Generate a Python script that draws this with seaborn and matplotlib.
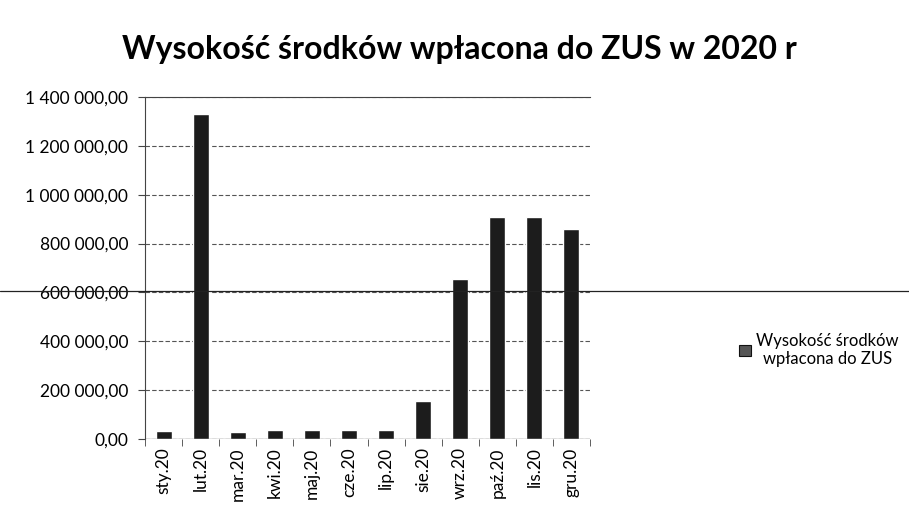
import matplotlib
matplotlib.use("Agg")
import matplotlib.pyplot as plt
import matplotlib.ticker as mticker
from matplotlib.lines import Line2D
import seaborn as sns
import pandas as pd
import numpy as np

months = ["sty.20", "lut.20", "mar.20", "kwi.20", "maj.20", "cze.20",
          "lip.20", "sie.20", "wrz.20", "paź.20", "lis.20", "gru.20"]
values = [33000, 1330000, 30000, 35000, 35000, 35000,
          35000, 155000, 655000, 910000, 910000, 858000]
series_name = "Wysokość środków\nwpłacona do ZUS"
title = "Wysokość środków wpłacona do ZUS w 2020 r"

sns.set_style("white")
plt.rcParams['font.family'] = ['Lato', 'DejaVu Sans']
plt.rcParams['text.color'] = 'black'
plt.rcParams['xtick.color'] = 'black'
plt.rcParams['ytick.color'] = 'black'

df = pd.DataFrame({"miesiac": months, "kwota": values})

fig = plt.figure(figsize=(9.09, 5.16), dpi=100)
ax = fig.add_axes([145 / 909, 1 - 439 / 516, 445 / 909, 342 / 516])

sns.barplot(data=df, x="miesiac", y="kwota", color="#1c1c1c", width=0.43,
            saturation=1, ax=ax, zorder=3)

ax.set_ylim(0, 1400000)
ax.set_xlim(-0.5, len(months) - 0.5)
ax.yaxis.set_major_locator(mticker.MultipleLocator(200000))


def pl_fmt(v, pos):
    s = f"{v:,.2f}"
    return s.replace(",", " ").replace(".", ",")


ax.yaxis.set_major_formatter(mticker.FuncFormatter(pl_fmt))
ax.grid(axis="y", color="#555555", linestyle=(0, (4, 2)), linewidth=0.8, zorder=0)
ax.set_xlabel("")
ax.set_ylabel("")

for sp in ["right", "bottom"]:
    ax.spines[sp].set_visible(False)
ax.spines["left"].set_color("#444444")
ax.spines["left"].set_linestyle((0, (5, 1)))
ax.spines["top"].set_color("#444444")
ax.axhline(0, color="#444444", linewidth=0.9, zorder=4)

ax.set_xticks(np.arange(len(months)))
ax.set_xticklabels(months, rotation=90, fontsize=12.5)
ax.tick_params(axis="x", length=0, pad=6)
ax.set_xticks(np.arange(len(months) + 1) - 0.5, minor=True)
ax.tick_params(axis="x", which="minor", length=5, direction="out", color="#444444")
ax.tick_params(axis="y", length=5, direction="out", color="#444444", labelsize=12.5, pad=7)
ax.tick_params(axis="both", bottom=True, left=True, which="both")

fig.text(0.505, 0.905, title, ha="center", va="center", fontsize=23, fontweight="bold")

handle = plt.Rectangle((0, 0), 1, 1, facecolor="#555555", edgecolor="#111111", linewidth=0.8)
leg = fig.legend([handle], [series_name], loc="center left", bbox_to_anchor=(0.797, 0.322),
                 frameon=False, fontsize=12, handlelength=0.7, handleheight=0.7,
                 handletextpad=0.3)
for t in leg.get_texts():
    t.set_multialignment("center")

# scan artefact line across the page
fig.add_artist(Line2D([0, 1], [1 - 291 / 516, 1 - 291 / 516], transform=fig.transFigure,
                      color="#222222", linewidth=0.9))

fig.savefig("out.png", dpi=100)
